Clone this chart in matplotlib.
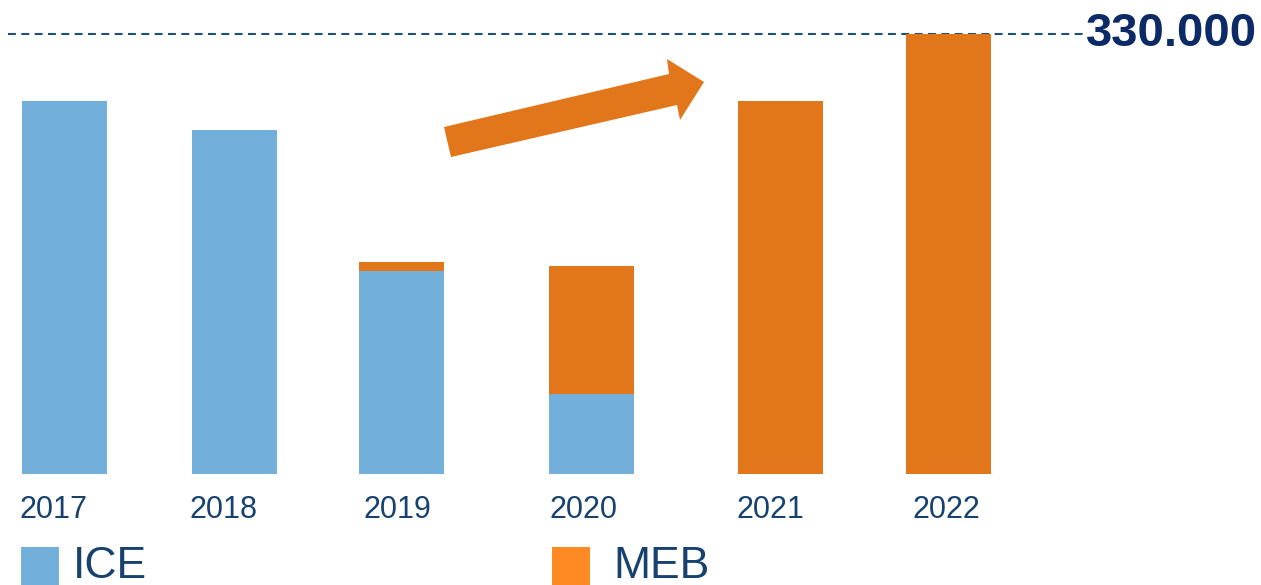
import matplotlib
matplotlib.use("Agg")
import matplotlib.pyplot as plt
import matplotlib.transforms as mtransforms
from matplotlib.patches import Polygon, Rectangle

plt.rcParams["font.family"] = ["Liberation Sans", "DejaVu Sans"]

# ---- data ---------------------------------------------------------------
years = ["2017", "2018", "2019", "2020", "2021", "2022"]
ice = [280000, 258000, 152000, 60000, 0, 0]
meb = [0, 0, 7000, 96000, 280000, 330000]
target = 330000
target_label = "330.000"
legend_labels = ["ICE", "MEB"]

# ---- style --------------------------------------------------------------
ICE_BLUE = "#72B0DB"
MEB_ORANGE = "#E2761B"
LEG_ORANGE = "#FF8A24"
NAVY = "#0B2A66"
TEXT = "#174270"
DASH = "#1F4E79"

W, H = 1261, 585
fig = plt.figure(figsize=(W / 100, H / 100), dpi=100)


def px(x, y):
    """pixel (top-left origin) -> figure fraction"""
    return x / W, 1 - y / H


# axes spans whole width; bottom at baseline pixel 474
ax = fig.add_axes([0, 1 - 474 / H, 1, 474 / H])
xpos = [0, 1, 1.98, 3.10, 4.21, 5.20]   # bar slots, slightly irregular as in the slide
label_nudge = [-11, -11, -4, -8, -10, -2]  # year labels sit a bit left of the bars (px)
ax.set_xlim(-64.5 / 170, (W - 64.5) / 170)
ax.set_ylim(0, target * 474 / 440)

ax.bar(xpos, ice, width=0.5, color=ICE_BLUE, linewidth=0)
ax.bar(xpos, meb, width=0.5, bottom=ice, color=MEB_ORANGE, linewidth=0)

ax.axhline(target, xmin=8 / W, xmax=1085 / W, color=DASH, lw=1.5,
           dashes=(3.8, 2.6), zorder=0)
ax.text(1086 / W, target, target_label, transform=ax.get_yaxis_transform(),
        ha="left", va="center", fontsize=34, fontweight="bold", color=NAVY)

ax.set_xticks(xpos)
ax.set_xticklabels(years, fontsize=22, color=TEXT)
ax.tick_params(axis="x", length=0, pad=15)
for lab, dx in zip(ax.get_xticklabels(), label_nudge):
    lab.set_transform(lab.get_transform() +
                      mtransforms.ScaledTranslation(dx / 100, 0, fig.dpi_scale_trans))
ax.set_yticks([])
for s in ax.spines.values():
    s.set_visible(False)
ax.patch.set_alpha(0)

# growth arrow
arrow_px = [(444, 127), (669, 74), (667, 59), (704, 82),
            (680, 120), (677, 105), (451, 157)]
fig.patches.append(Polygon([px(*p) for p in arrow_px], closed=True,
                           transform=fig.transFigure, facecolor=MEB_ORANGE,
                           edgecolor="none"))

# legend
for (lx, tx), lab, col in zip([(21, 73), (552, 613)], legend_labels,
                              [ICE_BLUE, LEG_ORANGE]):
    x0, y0 = px(lx, 585)
    fig.patches.append(Rectangle((x0, y0), 38 / W, 38 / H,
                                 transform=fig.transFigure, facecolor=col,
                                 edgecolor="none"))
    fx, fy = px(tx, 567)
    fig.text(fx, fy, lab, ha="left", va="center", fontsize=32, color=TEXT)

fig.savefig("out.png", dpi=100)
